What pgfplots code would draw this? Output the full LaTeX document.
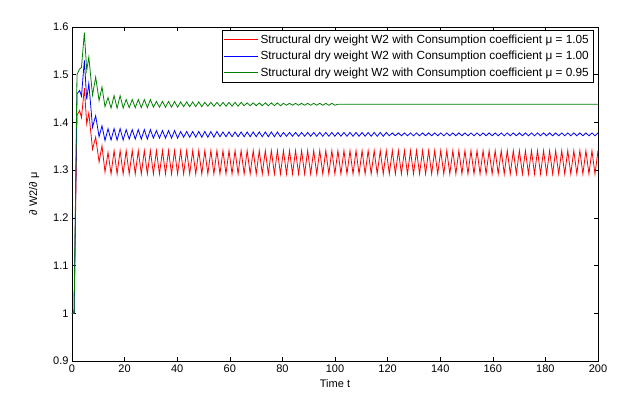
\documentclass[border=0pt]{standalone}
\usepackage{fontspec}
\setmainfont{Liberation Sans}
\usepackage{pgfplots}
\usepackage{pgfplotstable}
\pgfplotsset{compat=1.18}
\definecolor{mred}{rgb}{1,0,0}
\definecolor{mblue}{rgb}{0,0,1}
\definecolor{mgreen}{rgb}{0,0.5,0}
\pgfplotstableread{
t r b g
0 1.000 1.000 1.000
0.8 1.000 1.000 1.000
1.9 1.415 1.460 1.500
2.9 1.425 1.467 1.512
3.6 1.410 1.455 1.515
4.7 1.472 1.530 1.588
5.6 1.397 1.448 1.509
6.4 1.420 1.482 1.537
7.8 1.344 1.390 1.457
9.0 1.369 1.414 1.495
10.3 1.317 1.370 1.446
11.4 1.351 1.393 1.474
12.55 1.296 1.362 1.433
13.70 1.337 1.387 1.452
14.85 1.292 1.363 1.430
16.00 1.341 1.387 1.456
17.15 1.292 1.363 1.430
18.30 1.341 1.387 1.456
19.45 1.292 1.363 1.430
20.60 1.341 1.385 1.448
21.75 1.292 1.365 1.431
22.90 1.341 1.385 1.448
24.05 1.292 1.365 1.431
25.20 1.341 1.385 1.448
26.35 1.292 1.365 1.431
27.50 1.341 1.385 1.448
28.65 1.292 1.365 1.431
29.80 1.341 1.385 1.448
30.95 1.292 1.367 1.432
32.10 1.341 1.383 1.444
33.25 1.292 1.367 1.432
34.40 1.341 1.383 1.444
35.55 1.292 1.367 1.432
36.70 1.341 1.383 1.444
37.85 1.292 1.367 1.432
39.00 1.341 1.383 1.444
40.15 1.292 1.367 1.432
41.30 1.341 1.381 1.443
42.45 1.292 1.369 1.433
43.60 1.341 1.381 1.443
44.75 1.292 1.369 1.433
45.90 1.341 1.381 1.443
47.05 1.292 1.369 1.433
48.20 1.341 1.381 1.443
49.35 1.292 1.369 1.433
50.50 1.341 1.381 1.442
51.65 1.292 1.369 1.434
52.80 1.341 1.381 1.442
53.95 1.292 1.369 1.434
55.10 1.341 1.381 1.442
56.25 1.292 1.370 1.434
57.40 1.341 1.380 1.442
58.55 1.292 1.370 1.434
59.70 1.341 1.380 1.442
60.85 1.292 1.370 1.434
62.00 1.341 1.380 1.442
63.15 1.292 1.370 1.434
64.30 1.341 1.380 1.442
65.45 1.292 1.370 1.435
66.60 1.341 1.380 1.441
67.75 1.292 1.370 1.435
68.90 1.341 1.380 1.441
70.05 1.292 1.370 1.435
71.20 1.341 1.380 1.441
72.35 1.292 1.370 1.435
73.50 1.341 1.380 1.441
74.65 1.292 1.370 1.435
75.80 1.341 1.380 1.441
76.95 1.292 1.370 1.435
78.10 1.341 1.380 1.441
79.25 1.292 1.370 1.435
80.40 1.341 1.379 1.440
81.55 1.292 1.371 1.436
82.70 1.341 1.379 1.440
83.85 1.292 1.371 1.436
85.00 1.341 1.379 1.440
86.15 1.292 1.371 1.436
87.30 1.341 1.379 1.440
88.45 1.292 1.371 1.436
89.60 1.341 1.379 1.440
90.75 1.292 1.371 1.436
91.90 1.341 1.379 1.440
93.05 1.292 1.371 1.436
94.20 1.341 1.379 1.440
95.35 1.292 1.371 1.436
96.50 1.341 1.379 1.440
97.65 1.292 1.371 1.436
98.80 1.341 1.379 1.440
99.95 1.292 1.371 1.436
101.10 1.341 1.379 1.438
102.25 1.292 1.371 1.438
103.40 1.341 1.379 1.438
104.55 1.292 1.371 1.438
105.70 1.341 1.379 1.438
106.85 1.292 1.371 1.438
108.00 1.341 1.379 1.438
109.15 1.292 1.371 1.438
110.30 1.341 1.379 1.438
111.45 1.292 1.371 1.438
112.60 1.341 1.379 1.438
113.75 1.292 1.371 1.438
114.90 1.341 1.379 1.438
116.05 1.292 1.371 1.438
117.20 1.341 1.379 1.438
118.35 1.292 1.371 1.438
119.50 1.341 1.379 1.438
120.65 1.292 1.372 1.438
121.80 1.341 1.378 1.438
122.95 1.292 1.372 1.438
124.10 1.341 1.378 1.438
125.25 1.292 1.372 1.438
126.40 1.341 1.378 1.438
127.55 1.292 1.372 1.438
128.70 1.341 1.378 1.438
129.85 1.292 1.372 1.438
131.00 1.341 1.378 1.438
132.15 1.292 1.372 1.438
133.30 1.341 1.378 1.438
134.45 1.292 1.372 1.438
135.60 1.341 1.378 1.438
136.75 1.292 1.372 1.438
137.90 1.341 1.378 1.438
139.05 1.292 1.372 1.438
140.20 1.341 1.378 1.438
141.35 1.292 1.372 1.438
142.50 1.341 1.378 1.438
143.65 1.292 1.372 1.438
144.80 1.341 1.378 1.438
145.95 1.292 1.372 1.438
147.10 1.341 1.378 1.438
148.25 1.292 1.372 1.438
149.40 1.341 1.378 1.438
150.55 1.292 1.372 1.438
151.70 1.341 1.378 1.438
152.85 1.292 1.372 1.438
154.00 1.341 1.378 1.438
155.15 1.292 1.372 1.438
156.30 1.341 1.378 1.438
157.45 1.292 1.372 1.438
158.60 1.341 1.378 1.438
159.75 1.292 1.372 1.438
160.90 1.341 1.378 1.438
162.05 1.292 1.372 1.438
163.20 1.341 1.378 1.438
164.35 1.292 1.372 1.438
165.50 1.341 1.378 1.438
166.65 1.292 1.372 1.438
167.80 1.341 1.378 1.438
168.95 1.292 1.372 1.438
170.10 1.341 1.378 1.438
171.25 1.292 1.372 1.438
172.40 1.341 1.378 1.438
173.55 1.292 1.372 1.438
174.70 1.341 1.378 1.438
175.85 1.292 1.372 1.438
177.00 1.341 1.378 1.438
178.15 1.292 1.372 1.438
179.30 1.341 1.378 1.438
180.45 1.292 1.372 1.438
181.60 1.341 1.378 1.438
182.75 1.292 1.372 1.438
183.90 1.341 1.378 1.438
185.05 1.292 1.372 1.438
186.20 1.341 1.378 1.438
187.35 1.292 1.372 1.438
188.50 1.341 1.378 1.438
189.65 1.292 1.372 1.438
190.80 1.341 1.378 1.438
191.95 1.292 1.372 1.438
193.10 1.341 1.378 1.438
194.25 1.292 1.372 1.438
195.40 1.341 1.378 1.438
196.55 1.292 1.372 1.438
197.70 1.341 1.378 1.438
198.85 1.292 1.372 1.438
200.00 1.341 1.378 1.438
}\data
\begin{document}
\begin{tikzpicture}
\useasboundingbox (-72pt,-40pt) rectangle (556pt,361pt);
\begin{axis}[
  at={(0pt,0pt)}, anchor=south west,
  scale only axis, width=526pt, height=334pt,
  xmin=0, xmax=200, ymin=0.9, ymax=1.6,
  xtick={0,20,...,200},
  ytick={0.9,1,1.1,1.2,1.3,1.4,1.5,1.6},
  yticklabels={0.9,1,1.1,1.2,1.3,1.4,1.5,1.6},
  tick align=inside,
  major tick length=4pt,
  axis line style={line width=0.9pt},
  every tick/.style={black, line width=0.6pt},
  /pgf/number format/assume math mode=true,
  tick label style={font=\fontsize{11}{13}\selectfont},
  label style={font=\fontsize{11}{13}\selectfont},
  xlabel={Time t},
  ylabel={∂ W2/∂ μ},
  xlabel style={at={(axis description cs:0.5,-0.069)}, anchor=center},
  ylabel style={at={(axis description cs:-0.072,0.5)}, anchor=center},
  legend style={at={(1,1)}, anchor=north east, xshift=-5pt, yshift=-3.5pt,
    font=\fontsize{11.8}{13}\selectfont, row sep=2.5pt,
    inner sep=2pt},
  legend cell align=left,
  legend image code/.code={\draw[#1] (0pt,0pt) -- (34pt,0pt);},
]
\addplot[color=mred, line width=0.8pt] table[x=t, y=r] {\data};
\addlegendentry{Structural dry weight W2 with Consumption coefficient μ = 1.05}
\addplot[color=mblue, line width=0.8pt] table[x=t, y=b] {\data};
\addlegendentry{Structural dry weight W2 with Consumption coefficient μ = 1.00}
\addplot[color=mgreen, line width=0.8pt] table[x=t, y=g] {\data};
\addlegendentry{Structural dry weight W2 with Consumption coefficient μ = 0.95}
\end{axis}
\end{tikzpicture}
\end{document}
